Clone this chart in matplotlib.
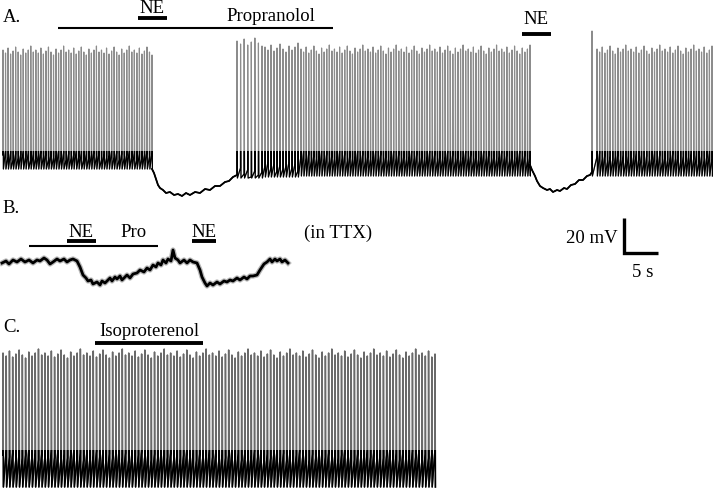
import numpy as np
import matplotlib.pyplot as plt
from matplotlib.patches import Rectangle

# all coordinates in figure pixels (x right, y down)

# ---- trace A: spike trains (start, end, count, peak, threshold, trough)
a_train_start = [3, 237, 265, 301, 592, 597]
a_train_end = [152, 262, 298, 530, 592, 712]
a_train_count = [60, 8, 12, 90, 1, 45]
a_train_peak = [50, 41, 47, 49, 31, 49]
a_train_thresh = [155, 172, 166, 156, 172, 157]
a_train_trough = [169, 178, 177, 176, 176, 176]

# spike-to-spike scatter of peak and threshold seen in the recordings (px)
peak_var = [0, 3, -2, 4, 1, -3, 2, 5, -1, 3, 0, -4, 2]
thresh_var = [0, -4, 2, -2, 5, -1, 3]

# hyperpolarized, silent stretches of trace A
a_quiet1_x = [152, 154, 156, 158, 160, 163, 166, 170, 174, 178, 182, 186, 190, 195,
              200, 205, 210, 215, 220, 225, 229, 233, 237]
a_quiet1_y = [169, 173, 179, 185, 188, 190, 193, 192, 195, 194, 196, 193, 195, 192,
              193, 189, 190, 186, 186, 182, 181, 177, 175]
a_quiet2_x = [530, 532, 535, 537, 540, 543, 547, 550, 553, 557, 560, 564, 567, 571,
              575, 579, 583, 587, 590, 592]
a_quiet2_y = [165, 170, 176, 181, 186, 188, 190, 189, 192, 190, 191, 188, 189, 185,
              184, 180, 180, 176, 175, 172]

# ---- trace B (in TTX, no spikes)
b_x = [2, 6, 9, 13, 17, 21, 25, 29, 33, 37, 40, 44, 47, 50, 53, 57, 60, 64, 67, 70,
       73, 77, 80, 83, 86, 88, 91, 93, 97, 100, 102, 105, 107, 110, 112, 115, 117,
       120, 122, 125, 127, 130, 133, 137, 140, 144, 147, 150, 153, 156, 158, 161,
       163, 166, 168, 171, 173, 175, 178, 180, 184, 187, 190, 193, 197, 200, 202,
       205, 207, 210, 213, 217, 220, 224, 227, 230, 233, 237, 240, 244, 247, 250,
       253, 257, 260, 264, 267, 270, 272, 275, 277, 280, 282, 285, 288]
b_y = [263, 261, 264, 260, 262, 259, 262, 260, 263, 260, 261, 258, 260, 264, 262,
       259, 261, 259, 262, 260, 259, 261, 267, 275, 278, 281, 280, 284, 282, 285,
       281, 283, 281, 278, 281, 277, 279, 276, 280, 277, 275, 278, 274, 273, 270,
       272, 268, 270, 265, 267, 263, 265, 260, 263, 259, 261, 250, 258, 260, 263,
       260, 263, 260, 262, 263, 270, 277, 283, 286, 283, 285, 282, 284, 281, 282,
       280, 281, 278, 280, 277, 279, 276, 276, 275, 270, 264, 262, 259, 262, 259,
       261, 259, 262, 260, 263]

# ---- trace C: spike train
c_train_start = [3]
c_train_end = [435]
c_train_count = [135]
c_train_peak = [353]
c_train_thresh = [455]
c_train_trough = [487]


def spike_train(start, end, count, peak, thresh, trough):
    xs, ys = [], []
    for k, xi in enumerate(np.linspace(start, end, count)):
        xs += [xi - 0.1, xi, xi + 0.4]
        ys += [thresh + thresh_var[k % len(thresh_var)],
               peak + peak_var[k % len(peak_var)], trough]
    return xs, ys


def draw_trace(xs, ys, band_top, band_bottom, lw, grey):
    # spikes render grey, the dense baseline band black
    ax.plot(xs, ys, color=grey, lw=lw)
    line, = ax.plot(xs, ys, color='black', lw=lw)
    clip = Rectangle((0, band_top), 720, band_bottom - band_top,
                     transform=ax.transData, visible=False)
    ax.add_patch(clip)
    line.set_clip_path(clip)


fig = plt.figure(figsize=(7.2, 4.92), dpi=100)
ax = fig.add_axes([0, 0, 1, 1])
ax.set_xlim(0, 720)
ax.set_ylim(492, 0)
ax.axis('off')

# trace A, assembled in time order
ax_pts, ay_pts = [], []
for i in range(len(a_train_start)):
    if i == 1:
        ax_pts += a_quiet1_x
        ay_pts += a_quiet1_y
    if i == 4:
        ax_pts += a_quiet2_x
        ay_pts += a_quiet2_y
    xs, ys = spike_train(a_train_start[i], a_train_end[i], a_train_count[i],
                         a_train_peak[i], a_train_thresh[i], a_train_trough[i])
    ax_pts += xs
    ay_pts += ys
draw_trace(ax_pts, ay_pts, 151, 200, 0.85, '#8c8c8c')
ax.plot(a_quiet1_x, a_quiet1_y, color='black', lw=1.3)
ax.plot(a_quiet2_x, a_quiet2_y, color='black', lw=1.3)

# trace B
ax.plot(b_x, b_y, color='#999999', lw=3.8, alpha=0.7)
ax.plot(b_x, b_y, color='black', lw=2.0)

# trace C
for i in range(len(c_train_start)):
    xs, ys = spike_train(c_train_start[i], c_train_end[i], c_train_count[i],
                         c_train_peak[i], c_train_thresh[i], c_train_trough[i])
    draw_trace(xs, ys, 450, 492, 1.1, '#6a6a6a')

# labels, drug bars
font = dict(family='Liberation Serif', size=13.5, color='black', va='baseline')
ax.text(3, 22, 'A.', ha='left', **font)
ax.text(152, 13, 'NE', ha='center', **font)
ax.plot([138, 167], [18, 18], color='black', lw=2.8, solid_capstyle='butt')
ax.text(271, 21, 'Propranolol', ha='center', **font)
ax.plot([58, 333], [27.5, 27.5], color='black', lw=1.5, solid_capstyle='butt')
ax.text(536, 24, 'NE', ha='center', **font)
ax.plot([522, 551], [33.5, 33.5], color='black', lw=2.8, solid_capstyle='butt')

ax.text(2, 213, 'B.', ha='left', **font)
ax.text(81, 237, 'NE', ha='center', **font)
ax.plot([67, 96], [240.5, 240.5], color='black', lw=2.8, solid_capstyle='butt')
ax.text(134, 237, 'Pro', ha='center', **font)
ax.plot([29, 158], [245.5, 245.5], color='black', lw=1.5, solid_capstyle='butt')
ax.text(204, 237, 'NE', ha='center', **font)
ax.plot([192, 216], [240.5, 240.5], color='black', lw=2.8, solid_capstyle='butt')
ax.text(338, 238, '(in TTX)', ha='center', **font)

# scale bar
ax.plot([623.5, 623.5, 658], [218, 253, 253], color='black', lw=2.4,
        solid_joinstyle='miter', solid_capstyle='butt')
ax.text(618, 243, '20 mV', ha='right', **font)
ax.text(643, 277, '5 s', ha='center', **font)

ax.text(3, 332, 'C.', ha='left', **font)
ax.text(149, 336, 'Isoproterenol', ha='center', **font)
ax.plot([95, 203], [342.5, 342.5], color='black', lw=2.8, solid_capstyle='butt')

fig.savefig('out.png', dpi=100)
